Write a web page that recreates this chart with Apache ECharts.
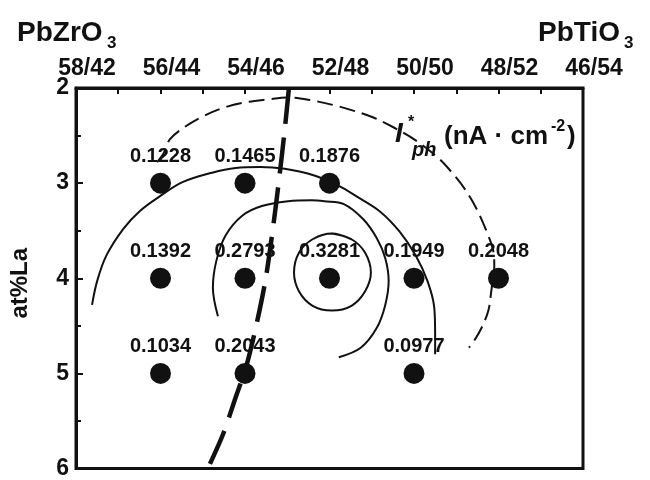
<!DOCTYPE html>
<html>
<head>
<meta charset="utf-8">
<script src="https://cdn.jsdelivr.net/npm/echarts@6/dist/echarts.min.js"></script>
<style>
  html, body { margin: 0; padding: 0; background: #fff; }
  #chart { width: 650px; height: 480px; }
</style>
</head>
<body>
<div id="chart"></div>
<script>
// composition PbZrO3/PbTiO3 along the top axis
const xLabels = ['58/42', '56/44', '54/46', '52/48', '50/50', '48/52', '46/54']

// measured points
const pointComp = ['56/44', '54/46', '52/48', '56/44', '54/46', '52/48', '50/50', '48/52', '56/44', '54/46', '50/50']
const pointLa = [3, 3, 3, 4, 4, 4, 4, 4, 5, 5, 5]
const pointIph = [0.1228, 0.1465, 0.1876, 0.1392, 0.2793, 0.3281, 0.1949, 0.2048, 0.1034, 0.2043, 0.0977]

// contour lines as [composition index, at% La]
const contourSmall = [[3.03, 3.53], [3.26, 3.59], [3.42, 3.73], [3.49, 3.94], [3.42, 4.14], [3.26, 4.29], [3.03, 4.34],
  [2.80, 4.29], [2.64, 4.14], [2.58, 3.94], [2.64, 3.73], [2.80, 3.59], [3.03, 3.53], [3.26, 3.59]]
const contourMid = [[1.68, 4.40], [1.62, 4.10], [1.66, 3.82], [1.77, 3.55], [1.97, 3.34], [2.20, 3.24], [2.51, 3.19],
  [2.79, 3.18], [2.94, 3.19], [3.17, 3.22], [3.40, 3.38], [3.56, 3.58], [3.66, 3.79], [3.70, 4.03], [3.66, 4.28],
  [3.56, 4.52], [3.37, 4.73], [3.11, 4.83]]
const contourLarge = [[0.19, 4.28], [0.25, 4.03], [0.36, 3.76], [0.56, 3.48], [0.76, 3.29], [0.99, 3.14], [1.26, 2.99],
  [1.61, 2.89], [1.89, 2.84], [2.18, 2.83], [2.47, 2.85], [2.82, 2.92], [3.11, 3.03], [3.32, 3.14], [3.60, 3.30],
  [3.83, 3.51], [4.02, 3.76], [4.16, 4.03], [4.24, 4.31], [4.25, 4.59], [4.25, 4.80]]
const contourOuter = [[0.96, 2.78], [1.04, 2.68], [1.11, 2.54], [1.27, 2.42], [1.50, 2.30], [1.74, 2.21], [2.01, 2.15],
  [2.27, 2.12], [2.51, 2.10], [2.79, 2.13], [3.05, 2.18], [3.29, 2.24], [3.52, 2.31], [3.75, 2.41], [4.02, 2.55],
  [4.28, 2.73], [4.45, 2.89], [4.60, 3.06], [4.74, 3.27], [4.86, 3.51], [4.94, 3.72], [4.95, 3.87], [4.94, 4.00],
  [4.92, 4.10], [4.88, 4.34], [4.80, 4.52], [4.71, 4.66], [4.65, 4.73]]
// phase boundary (MPB)
const boundary = [[2.52, 2.00], [2.47, 2.44], [2.41, 2.91], [2.33, 3.48], [2.24, 4.03], [2.12, 4.55], [2.01, 4.94],
  [1.89, 5.25], [1.74, 5.64], [1.56, 6.00]]

const FONT = '"Liberation Sans", Arial, sans-serif'
const INK = '#111'

const chart = echarts.init(document.getElementById('chart'))

const points = pointComp.map((c, i) => [xLabels.indexOf(c), pointLa[i], pointIph[i]])

const curve = (data, width, type) => ({
  type: 'line',
  data: data,
  smooth: 0.35,
  symbol: 'none',
  silent: true,
  z: 2,
  lineStyle: { color: INK, width: width, type: type || 'solid', opacity: 1 }
})

const option = {
  backgroundColor: '#fff',
  animation: false,
  grid: {
    left: 68, right: 67, top: 88, bottom: 8,
    show: true, borderColor: INK, borderWidth: 3
  },
  xAxis: {
    type: 'value',
    position: 'top',
    min: 0, max: 6, interval: 1,
    axisLine: { show: true, lineStyle: { color: INK, width: 3 } },
    axisTick: { show: true, inside: true, length: 6, lineStyle: { color: INK, width: 2 } },
    minorTick: { show: true, splitNumber: 2, length: 6, lineStyle: { color: INK, width: 2 } },
    splitLine: { show: false },
    axisLabel: {
      color: INK, fontSize: 23, fontWeight: 'bold', fontFamily: FONT, margin: 8,
      padding: [0, 0, 0, 22],
      formatter: v => xLabels[v] || ''
    }
  },
  yAxis: {
    type: 'value',
    inverse: true,
    min: 2, max: 6, interval: 1,
    name: 'at%La',
    nameLocation: 'middle',
    nameGap: 44,
    nameTextStyle: { color: INK, fontSize: 24, fontWeight: 'bold', fontFamily: FONT, padding: [0, 10, 0, 0] },
    axisLine: { show: true, lineStyle: { color: INK, width: 3 } },
    axisTick: { show: true, inside: true, length: 7, lineStyle: { color: INK, width: 2 } },
    minorTick: { show: true, splitNumber: 2, length: 5, lineStyle: { color: INK, width: 2 } },
    splitLine: { show: false },
    axisLabel: { color: INK, fontSize: 23, fontWeight: 'bold', fontFamily: FONT, margin: 7 }
  },
  graphic: [
    { type: 'text', x: 17, y: 33, style: { text: 'PbZrO', font: 'bold 28px ' + FONT, fill: INK, verticalAlign: 'middle' } },
    { type: 'text', x: 107, y: 43, style: { text: '3', font: 'bold 17px ' + FONT, fill: INK, verticalAlign: 'middle' } },
    { type: 'text', x: 538, y: 33, style: { text: 'PbTiO', font: 'bold 28px ' + FONT, fill: INK, verticalAlign: 'middle' } },
    { type: 'text', x: 624, y: 43, style: { text: '3', font: 'bold 17px ' + FONT, fill: INK, verticalAlign: 'middle' } },
    // I*ph (nA·cm-2)
    { type: 'text', x: 395, y: 134, z: 10, style: { text: 'I', font: 'italic bold 28px ' + FONT, fill: INK, verticalAlign: 'middle' } },
    { type: 'text', x: 408, y: 123, z: 10, style: { text: '*', font: 'bold 16px ' + FONT, fill: INK, verticalAlign: 'middle' } },
    { type: 'text', x: 412, y: 150, z: 10, style: { text: 'ph', font: 'italic bold 20px ' + FONT, fill: INK, verticalAlign: 'middle' } },
    { type: 'text', x: 444, y: 137, z: 10, style: { text: '(nA · cm', font: 'bold 26px ' + FONT, fill: INK, verticalAlign: 'middle' } },
    { type: 'text', x: 551, y: 127, z: 10, style: { text: '-2', font: 'bold 16px ' + FONT, fill: INK, verticalAlign: 'middle' } },
    { type: 'text', x: 567, y: 137, z: 10, style: { text: ')', font: 'bold 26px ' + FONT, fill: INK, verticalAlign: 'middle' } }
  ],
  series: [
    curve(contourSmall, 2),
    curve(contourMid, 2),
    curve(contourLarge, 2),
    curve(contourOuter, 2, [16, 7]),
    Object.assign(curve(boundary, 4.5, [36, 14]), { smooth: 0.3 }),
    {
      type: 'scatter',
      data: points,
      symbolSize: 21,
      z: 5,
      itemStyle: { color: INK, opacity: 1 },
      label: {
        show: true,
        position: 'top',
        distance: 6,
        color: INK,
        opacity: 1,
        fontSize: 20,
        fontWeight: 'bold',
        fontFamily: FONT,
        formatter: p => p.value[2].toFixed(4)
      }
    }
  ]
}

chart.setOption(option)
window.addEventListener('resize', () => chart.resize())
</script>
</body>
</html>
